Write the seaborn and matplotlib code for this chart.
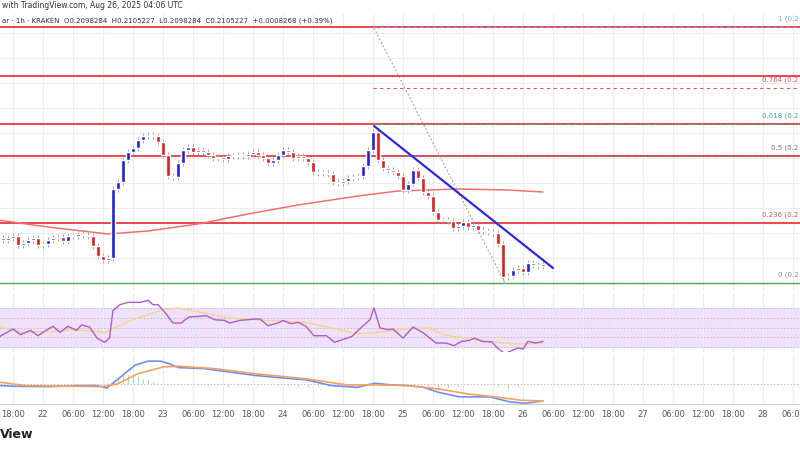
import numpy as np
import pandas as pd
import seaborn as sns
import matplotlib.pyplot as plt

sns.set_style("white")

# Цены закрытия по часам (h = часы относительно 26 Aug 00:00)
first_h = -104
closes = [0.2129, 0.2131, 0.2133, 0.2124, 0.2126, 0.2129, 0.2131, 0.2124, 0.2125, 0.2129,
          0.2131, 0.2132, 0.2128, 0.2133, 0.2133, 0.2135, 0.2134, 0.2133, 0.2123, 0.2113,
          0.2109, 0.2111, 0.2180, 0.2187, 0.2209, 0.2217, 0.2221, 0.2229, 0.2233, 0.2234,
          0.2233, 0.2227, 0.2214, 0.2193, 0.2192, 0.2206, 0.2219, 0.2222, 0.2217, 0.2219,
          0.2217, 0.2214, 0.2211, 0.2212, 0.2210, 0.2213, 0.2213, 0.2214, 0.2213, 0.2215,
          0.2217, 0.2214, 0.2211, 0.2206, 0.2209, 0.2214, 0.2219, 0.2217, 0.2211, 0.2213,
          0.2211, 0.2207, 0.2197, 0.2196, 0.2196, 0.2195, 0.2187, 0.2186, 0.2188, 0.2191,
          0.2192, 0.2193, 0.2203, 0.2219, 0.2237, 0.2209, 0.2201, 0.2199, 0.2197, 0.2193,
          0.2179, 0.2185, 0.2199, 0.2191, 0.2177, 0.2173, 0.2157, 0.2149, 0.2149, 0.2148,
          0.2141, 0.2143, 0.2147, 0.2142, 0.2144, 0.2139, 0.2138, 0.2137, 0.2136, 0.2125,
          0.2092, 0.2093, 0.2099, 0.2101, 0.2097, 0.2106, 0.2104, 0.2103, 0.2105]
first_open = 0.2131
wick = 0.0003

# Скользящая средняя (красная)
ma_h = [-105, -95, -83, -75, -65, -55, -45, -33, -25, -13, -3, 4]
ma_v = [0.2149, 0.2142, 0.2135, 0.2138, 0.2145, 0.2155, 0.2164, 0.2173, 0.2178, 0.2180, 0.2179, 0.2177]

# Горизонтальные уровни и Фибоначчи
red_levels = [0.2342, 0.2293, 0.2245, 0.2213, 0.2146]
support = 0.2086
fib_ratio = ['1', '0.764', '0.618', '0.5', '0.236', '0']
fib_price = [0.2342, 0.2281, 0.2245, 0.2213, 0.2146, 0.2086]
fib_colors = ['#7fa7e8', '#e05555', '#45b08c', '#777777', '#e05555', '#888888']
fib_start = -30
trend_h = [-29.8, 6]
trend_p = [0.2243, 0.2101]
diag_h = [-29.8, -3.6]
diag_p = [0.2341, 0.2086]

# RSI
rsi_h = [-104.6, -102, -100.5, -98.5, -97, -95.4, -94, -92.6, -91, -89.3, -88.3, -86.7, -85.2, -83.7,
         -82.7, -82, -80.6, -79, -76.5, -75, -74, -73, -71.4, -70, -68.4, -66.8, -64.8, -63.3, -61.7,
         -59.7, -58.7, -56.6, -53.6, -52.6, -51, -49, -48, -46.4, -44.9, -43.4, -41.8, -39.3, -37.7,
         -36.2, -34.2, -32.1, -30.6, -29.8, -28.6, -27, -26, -24, -22, -19.9, -17.4, -15.4, -13.8,
         -12.3, -10.7, -9.7, -8.2, -6.2, -5.1, -3.6, -2.6, -1, 0, 1, 2.5, 4]
rsi_v = [40.9, 48.5, 42.6, 47.1, 41.6, 47.1, 51.2, 45, 51.2, 47.1, 52.6, 50.5, 39.2, 34.8, 39.2,
         67.6, 73.4, 75.8, 75.8, 77.9, 73.4, 73.4, 64.2, 54.6, 54.6, 60.8, 61.4, 62.1, 58, 57.3,
         54.6, 57.3, 58.7, 58.7, 51.9, 54.6, 57.3, 53.9, 55.3, 51.2, 41.6, 41.6, 34.8, 37.5, 40.9,
         51.2, 58, 70, 49.5, 47.8, 48.5, 39.2, 50.5, 44.4, 34.1, 34.1, 31.4, 35.8, 36.8, 39.2, 35.8,
         35.1, 29, 23.1, 25.5, 29, 27.9, 35.8, 34.1, 35.8]
rsi_ma_h = [-104.6, -100.5, -94.8, -89.3, -83.7, -78, -72, -69, -63.8, -58.7, -51.5, -43.4,
            -38.3, -33.2, -29.1, -23, -18.8, -15.8, -10.7, -6.6, -2.6, 1.5, 4]
rsi_ma_v = [51.2, 45, 46, 47.8, 45, 58, 68.3, 70, 64.9, 59.7, 57.3, 55.3, 49.5, 43.7, 45, 48.5,
            49.5, 42.6, 38.2, 35.8, 33.4, 33.4, 34.1]

# MACD
macd_h = [-104.6, -101.5, -94.4, -89.3, -85.2, -83.2, -80.1, -77.6, -75, -72.5, -70.9, -68.9,
          -63.8, -58.7, -53.6, -48.5, -43.4, -38.3, -33.2, -29.6, -27, -23, -19.9, -16.8, -12.7,
          -6.6, -2.6, 0.5, 4]
macd_v = [-5, -7, -8, -5, -5, -12, 25, 55, 67, 67, 60, 48, 45, 35, 25, 18, 12, -5, -10, 2,
          -2, -5, -10, -25, -38, -38, -53, -57, -50]
sig_h = [-104.6, -99.5, -89.3, -84.2, -81.1, -77, -71.9, -68.9, -61.7, -53.6, -43.4, -35.2,
         -29.1, -23, -16.8, -10.7, -5.6, -0.5, 4]
sig_v = [5, -5, -7, -8, 0, 30, 50, 52, 45, 30, 15, -3, -3, -5, -15, -30, -38, -48, -50]
hist_h = list(range(-83, -71)) + list(range(-71, 2, 2))
hist_v = [5, 12, 20, 28, 30, 26, 22, 18, 14, 10, 6, 3,
          -2, -4, -5, -6, -5, -7, -8, -6, -5, -6, -4, -5, -6, -8, -9, -10, -8, -4, -2, 3, 5, 4,
          -2, -4, -6, -9, -12, -14, -12, -10, -6, -4, -3, -10, -14, -8, -3]

H = 450
fig = plt.figure(figsize=(8, 4.5), dpi=100)
xmin, xmax = -104.6, 55.4


def px_rect(top, bottom):
    return [0, 1 - bottom / H, 1, (bottom - top) / H]


ax = fig.add_axes(px_rect(14, 290))
ax_rsi = fig.add_axes(px_rect(293, 352))
ax_macd = fig.add_axes(px_rect(355, 404))

tick_h = list(range(-102, 56, 6))
names = {-96: '22', -72: '23', -48: '24', -24: '25', 0: '26', 24: '27', 48: '28'}
tick_lab = [names.get(h, '%02d:00' % (h % 24)) for h in tick_h]

for a in (ax, ax_rsi, ax_macd):
    a.set_xlim(xmin, xmax)
    a.set_xticks(tick_h)
    a.tick_params(length=0, labelbottom=False, labelleft=False)
    a.grid(True, axis='x', color='#ececec', lw=0.8)
    for s in a.spines.values():
        s.set_visible(False)
ax_macd.spines['bottom'].set_visible(True)
ax_macd.spines['bottom'].set_color('#cccccc')
ax_macd.tick_params(labelbottom=True, labelsize=6, colors='#555555', pad=4)
ax_macd.set_xticklabels(tick_lab)

# --- цена ---
ax.set_ylim(0.2079, 0.2355)
ax.set_yticks(np.arange(0.2086, 0.2355, 0.0025))
ax.grid(True, axis='y', color='#ececec', lw=0.8)
opens = [first_open] + closes[:-1]
hrs = np.arange(first_h, first_h + len(closes))
for h, o, c in zip(hrs, opens, closes):
    col = '#1f1fe0' if c >= o else '#e01c1c'
    ax.vlines(h, min(o, c) - wick, max(o, c) + wick, color='#999999', lw=0.6, zorder=2)
    ax.bar(h, max(abs(c - o), 0.00008), bottom=min(o, c), width=0.75, color=col, zorder=3)

sns.lineplot(x=ma_h, y=ma_v, ax=ax, color='#f07070', lw=1.1)
for p in red_levels:
    ax.axhline(p, color='#e8383d', lw=1.3, zorder=1)
ax.axhline(support, color='#4caf50', lw=1.0)
for r, p, c in zip(fib_ratio, fib_price, fib_colors):
    ax.hlines(p, fib_start, xmax, color=c, lw=0.8, ls=(0, (3, 3)), zorder=1)
    ax.text(xmax - 0.3, p + 0.0005, '%s (0.2' % r, color=c, fontsize=5, ha='right', va='bottom')
ax.plot(diag_h, diag_p, color='#999999', lw=0.7, ls=(0, (2, 2)))
ax.plot(trend_h, trend_p, color='#2b2bdc', lw=1.6, zorder=4)

# --- RSI ---
ax_rsi.set_ylim(24.9, 85.4)
ax_rsi.axhspan(30, 70, color='#efe0fb', zorder=0)
for lv in (30, 40, 50, 60, 70):
    ax_rsi.axhline(lv, color='#bbbbbb', lw=0.6, ls=(0, (2, 2)))
sns.lineplot(x=rsi_ma_h, y=rsi_ma_v, ax=ax_rsi, color='#f5d58a', lw=1.0)
sns.lineplot(x=rsi_h, y=rsi_v, ax=ax_rsi, color='#b05bc8', lw=1.0)

# --- MACD ---
ax_macd.set_ylim(-59, 85)
ax_macd.axhline(0, color='#bbbbbb', lw=0.6, ls=(0, (2, 2)))
hist_cols = ['#5cc9b5' if v > 0 else '#f08080' for v in hist_v]
ax_macd.bar(hist_h, hist_v, width=0.25, color=hist_cols)
sns.lineplot(x=macd_h, y=macd_v, ax=ax_macd, color='#6f8ff0', lw=1.2)
sns.lineplot(x=sig_h, y=sig_v, ax=ax_macd, color='#f5a060', lw=1.2)

fig.text(0.003, 1 - 6 / H, 'with TradingView.com, Aug 26, 2025 04:06 UTC', fontsize=5.5,
         color='#333333', va='center')
fig.text(0.003, 1 - 21 / H,
         'ar · 1h · KRAKEN  O0.2098284  H0.2105227  L0.2098284  C0.2105227  +0.0008268 (+0.39%)',
         fontsize=5, color='#333333', va='center')
fig.text(0.0, 1 - 435 / H, 'View', fontsize=9, fontweight='bold', color='#222222', va='center')

fig.savefig('out.png', dpi=100)
